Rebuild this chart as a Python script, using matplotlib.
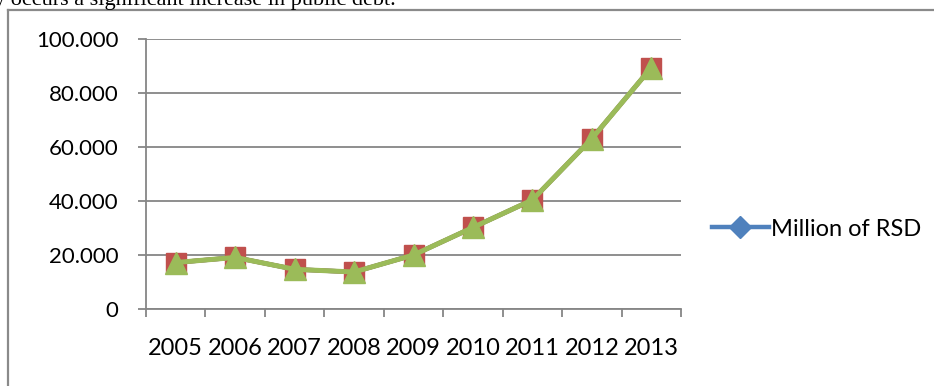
import matplotlib
matplotlib.use("Agg")
import matplotlib.pyplot as plt
from matplotlib.lines import Line2D
from matplotlib.ticker import FuncFormatter, FixedLocator

# Public debt, million RSD
years = ["2005", "2006", "2007", "2008", "2009", "2010", "2011", "2012", "2013"]
debt = [17200, 19100, 14700, 13700, 20000, 30200, 40400, 63100, 89400]
y_ticks = [0, 20000, 40000, 60000, 80000, 100000]
series_label = "Million of RSD"

W, H, DPI = 934, 386, 100
fig = plt.figure(figsize=(W / DPI, H / DPI), dpi=DPI)
fig.patch.set_facecolor("white")

def px(x, y):
    return x / W, 1 - y / H

GRAY = "#868686"
BLUE = "#4F81BD"
RED = "#C0504D"
GREEN = "#9BBB59"
FONT = "Lato"
FS = 17

# Text line of the surrounding document, cropped by the top edge
fig.text(px(-6, 0)[0], px(0, 5)[1], "y occurs a significant increase in public debt.",
         family="Liberation Serif", fontsize=16, color="black", va="baseline", ha="left")

# Chart frame
fig.add_artist(Line2D([px(8, 0)[0], px(8, 0)[0]], [px(0, 10)[1], px(0, 400)[1]],
                      color="#8a8a8a", lw=1.6, transform=fig.transFigure))
fig.add_artist(Line2D([px(8, 0)[0], px(960, 0)[0]], [px(0, 10)[1], px(0, 10)[1]],
                      color="#8a8a8a", lw=1.6, transform=fig.transFigure))

left, top = px(146, 39)
right, bottom = px(681, 309)
ax = fig.add_axes([left, bottom, right - left, top - bottom])
ax.set_facecolor("none")

x = [i + 0.5 for i in range(len(years))]
ax.plot(x, debt, color=BLUE, lw=3.2, marker="D", ms=8, mfc=BLUE, mec=BLUE,
        label=series_label, zorder=3)
ax.plot(x, debt, color=RED, lw=3.2, marker="s", ms=14, mfc=RED, mec=RED, zorder=4)
ax.plot(x, debt, color=GREEN, lw=3.6, marker="^", ms=15.5, mfc=GREEN, mec=GREEN, zorder=5)

ax.set_xlim(0, len(years))
ax.set_ylim(0, 100000)

ax.yaxis.set_major_locator(FixedLocator(y_ticks))
ax.yaxis.set_major_formatter(FuncFormatter(lambda v, p: f"{v:,.0f}".replace(",", ".")))
ax.grid(axis="y", color=GRAY, lw=1.3, zorder=0)
ax.set_axisbelow(True)

ax.xaxis.set_major_locator(FixedLocator(list(range(len(years) + 1))))
ax.xaxis.set_major_formatter(FuncFormatter(lambda v, p: ""))
ax.xaxis.set_minor_locator(FixedLocator(x))
ax.set_xticklabels(years, minor=True)

for s in ["top", "right"]:
    ax.spines[s].set_visible(False)
for s in ["left", "bottom"]:
    ax.spines[s].set_color(GRAY)
    ax.spines[s].set_linewidth(1.3)

ax.tick_params(axis="y", which="major", direction="out", length=6, width=1.3,
               color=GRAY, pad=14, labelsize=16, labelcolor="black")
ax.tick_params(axis="x", which="major", direction="out", length=6, width=1.3, color=GRAY)
ax.tick_params(axis="x", which="minor", length=0, pad=21, labelsize=FS, labelcolor="black")
for lab in ax.get_yticklabels() + ax.get_xticklabels(minor=True):
    lab.set_family(FONT)

handle = Line2D([], [], color=BLUE, lw=3.2, marker="D", ms=11, mfc=BLUE, mec=BLUE)
fig.legend(handles=[handle], labels=[series_label], loc="center left",
           bbox_to_anchor=px(712, 229), frameon=False, handlelength=2.4,
           handletextpad=0.1, borderaxespad=0, borderpad=0,
           prop={"family": FONT, "size": FS})

fig.savefig("out.png", dpi=DPI, facecolor="white")
